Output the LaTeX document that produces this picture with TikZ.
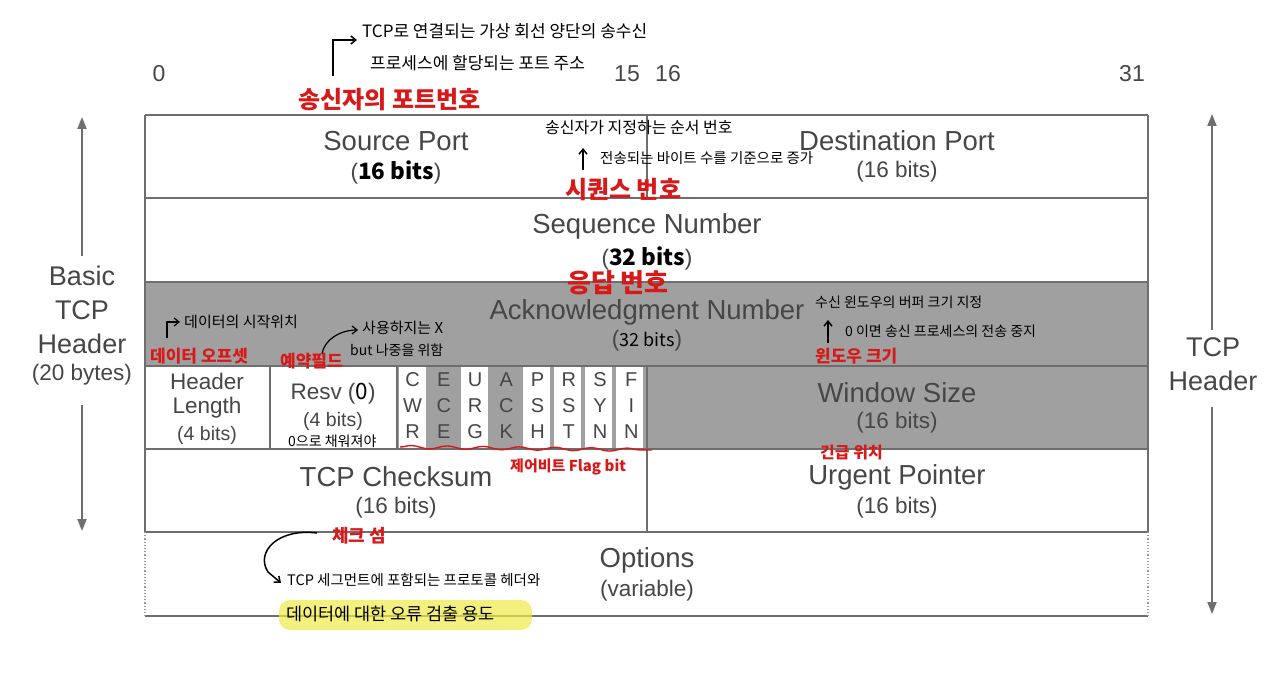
\documentclass[tikz,border=0pt]{standalone}
\usepackage{fontspec}
\usetikzlibrary{arrows.meta,decorations.pathmorphing}
\newfontfamily\hsans{Liberation Sans}
\newfontfamily\kr{Noto Sans CJK KR}
\definecolor{cellgray}{RGB}{160,160,160}
\definecolor{linegray}{RGB}{110,110,110}
\definecolor{txtgray}{RGB}{70,70,70}
\definecolor{hred}{RGB}{215,25,25}
\definecolor{hyellow}{RGB}{240,235,70}
\tikzset{
  rowline/.style={draw=linegray,line width=1.6pt},
  dotline/.style={draw=linegray!70,line width=1.2pt,dotted},
  big/.style={font=\hsans\fontsize{27.5}{29}\selectfont,text=txtgray,inner sep=0pt},
  sub/.style={font=\hsans\fontsize{22.5}{24}\selectfont,text=txtgray,inner sep=0pt},
  small/.style={font=\hsans\fontsize{22.5}{24}\selectfont,text=txtgray,inner sep=0pt},
  flagtxt/.style={font=\hsans\fontsize{20}{22}\selectfont,text=txtgray,inner sep=0pt,align=center},
  bitnum/.style={font=\hsans\fontsize{23}{25}\selectfont,text=txtgray,inner sep=0pt},
  side/.style={font=\hsans\fontsize{27}{34}\selectfont,text=txtgray,align=center,inner sep=0pt},
  sidesub/.style={font=\hsans\fontsize{22.5}{26}\selectfont,text=txtgray,inner sep=0pt},
  sidearrow/.style={draw=linegray,line width=2pt,-{Triangle[length=12pt,width=9pt]}},
  hw/.style={font=\kr\fontsize{#1}{#1}\selectfont,text=black,anchor=west,inner sep=0pt},
  hwred/.style={font=\kr\bfseries\fontsize{#1}{#1}\selectfont,text=hred,anchor=west,inner sep=0pt},
  hwarrow/.style={draw=black,line width=1.5pt,-{Straight Barb[length=5pt,width=8pt]}},
}
\begin{document}
\begin{tikzpicture}[x=1pt,y=-1pt]
\useasboundingbox (0,0) rectangle (1280,695);
\fill[white] (0,0) rectangle (1280,695);

% gray fills
\fill[cellgray] (145,282) rectangle (1148,366);
\fill[cellgray] (397,366) rectangle (1148,449);
\foreach \x in {397,459,521,552,583,614}{
  \fill[white] (\x+2,366) rectangle (\x+29.25,449);
}

% grid lines
\draw[rowline] (145,115) -- (1148,115);
\foreach \y in {198,282,366,449,532}{ \draw[rowline] (145,\y) -- (1148,\y); }
\draw[rowline] (145,616) -- (1148,616);
\draw[rowline] (145,115) -- (145,532);
\draw[rowline] (1148,115) -- (1148,532);
\draw[dotline] (145,532) -- (145,616);
\draw[dotline] (1148,532) -- (1148,616);
\draw[rowline] (647,115) -- (647,198);
\draw[rowline] (647,366) -- (647,532);
\draw[rowline] (270,366) -- (270,449);
\draw[rowline] (397,366) -- (397,449);

% bit numbers
\node[bitnum] (b0) at (159,74) {0};
\node[bitnum] (b15) at (627,74) {15};
\node[bitnum] (b16) at (668,74) {16};
\node[bitnum] (b31) at (1132,74) {31};

% field labels
\node[big] (sp) at (396,141) {Source Port};
\node[sub] (spb) at (396,172) {(\textcolor{black}{\kr\bfseries 16 bits})};
\node[big] (dp) at (897,141) {Destination Port};
\node[sub] (dpb) at (897,172) {(16 bits)};
\node[big] (sn) at (647,226) {Sequence Number};
\node[sub] (snb) at (647,258) {(\textcolor{black}{\kr\bfseries 32 bits})};
\node[big] (an) at (647,312) {Acknowledgment Number};
\node[sub] (anb) at (647,341) {(\textcolor{black}{\kr\fontsize{18}{20}\selectfont 32 bits})};
\node[small] (hl1) at (207,381) {Header};
\node[small] (hl2) at (207,408) {Length};
\node[sub,font=\hsans\fontsize{19.5}{21}\selectfont] (hl3) at (207,435) {(4 bits)};
\node[small] (rv1) at (333,394) {Resv (\textcolor{black}{\kr 0})};
\node[sub,font=\hsans\fontsize{19.5}{21}\selectfont] (rv2) at (333,421) {(4 bits)};
\foreach \n/\a/\b/\c [count=\i from 0] in {cwr/C/W/R,ece/E/C/E,urg/U/R/G,ack/A/C/K,psh/P/S/H,rst/R/S/T,syn/S/Y/N,fin/F/I/N}{
  \node[flagtxt] (\n1) at (412.6+31.25*\i,380) {\a};
  \node[flagtxt] (\n2) at (412.6+31.25*\i,406) {\b};
  \node[flagtxt] (\n3) at (412.6+31.25*\i,432) {\c};
}
\node[big] (ws) at (897,393) {Window Size};
\node[sub] (wsb) at (897,423) {(16 bits)};
\node[big] (cs) at (396,477) {TCP Checksum};
\node[sub] (csb) at (396,508) {(16 bits)};
\node[big] (up) at (897,477) {Urgent Pointer};
\node[sub] (upb) at (897,508) {(16 bits)};
\node[big] (op) at (647,560) {Options};
\node[sub] (opb) at (647,591) {(variable)};

% side labels
\node[side] (basic) at (82,310) {Basic\\TCP\\Header};
\node[sidesub] (bytes) at (82,375) {(20 bytes)};
\coordinate (btop) at (82,117);
\coordinate (bbot) at (82,531);
\draw[sidearrow] (82,256) -- (btop);
\draw[sidearrow] (82,405) -- (bbot);
\node[side] (tcph) at (1213,364) {TCP\\Header};
\coordinate (ttop) at (1212,114);
\coordinate (tbot) at (1212,614);
\draw[sidearrow] (1212,330) -- (ttop);
\draw[sidearrow] (1212,407) -- (tbot);

% handwritten annotations
\coordinate (a1s) at (333,76);
\coordinate (a1e) at (357,40);
\draw[hwarrow] (a1s) -- (333,40) -- (a1e);
\node[hw=17] (t1) at (362,31) {TCP로 연결되는 가상 회선 양단의 송수신};
\node[hw=17] (t2) at (370,63) {프로세스에 할당되는 포트 주소};
\node[hwred=24] (r1) at (298,100) {송신자의 포트번호};

\node[hw=16] (t3) at (545,128) {송신자가 지정하는 순서 번호};
\coordinate (a2s) at (583,170);
\coordinate (a2e) at (583,148);
\draw[hwarrow] (a2s) -- (a2e);
\node[hw=14.5] (t4) at (600,158) {전송되는 바이트 수를 기준으로 증가};
\node[hwred=24] (r2) at (565,190) {시퀀스 번호};
\node[hwred=26] (r3) at (567,283) {응답 번호};

\node[hw=14] (t5) at (815,302) {수신 윈도우의 버퍼 크기 지정};
\coordinate (a3s) at (828,343);
\coordinate (a3e) at (828,320);
\draw[hwarrow] (a3s) -- (a3e);
\node[hw=14] (t6) at (845,331) {0 이면 송신 프로세스의 전송 중지};
\node[hwred=17] (r4) at (815,356) {윈도우 크기};

\coordinate (a4s) at (167,338);
\coordinate (a4e) at (180,322);
\draw[hwarrow,line width=1.2pt] (a4s) -- (167,322) -- (a4e);
\node[hw=15] (t7) at (184,322) {데이터의 시작위치};
\node[hwred=17] (r5) at (150,356) {데이터 오프셋};

\coordinate (a5s) at (322,354);
\coordinate (a5e) at (358,330);
\draw[hwarrow,line width=1.2pt] (a5s) .. controls (324,340) and (340,330) .. (a5e);
\node[hw=15] (t8) at (362,328) {사용하지는 X};
\node[hw=14] (t9) at (350,350) {but 나중을 위함};
\node[hwred=17] (r6) at (280,361) {예약필드};
\node[hw=14] (t10) at (288,441) {0으로 채워져야};

\coordinate (wv1) at (400,447);
\coordinate (wv2) at (652,450);
\draw[hred,line width=1.4pt,decorate,decoration={snake,amplitude=1.6pt,segment length=36pt}] (wv1) -- (wv2);
\node[hwred=15] (r7) at (510,467) {제어비트 Flag bit};
\node[hwred=16] (r8) at (820,452) {긴급 위치};
\node[hwred=18] (r9) at (332,536) {체크 섬};

\coordinate (a6s) at (317,533);
\coordinate (a6e) at (281,583);
\draw[hwarrow] (a6s) .. controls (278,528) and (255,552) .. (268,572) -- (a6e);
\node[hw=14.5] (t11) at (287,580) {TCP 세그먼트에 포함되는 프로토콜 헤더와};
\fill[hyellow,opacity=0.7,rounded corners=11pt] (279,600) rectangle (532,630);
\node[hw=17.5] (t12) at (286,614) {데이터에 대한 오류 검출 용도};
\end{tikzpicture}
\end{document}
